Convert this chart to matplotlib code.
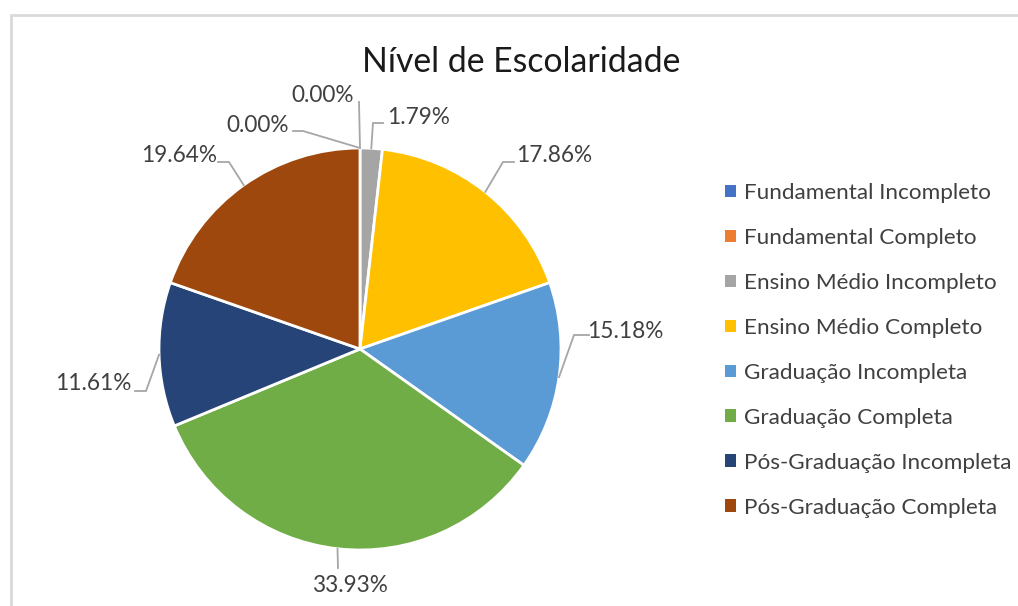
import matplotlib
matplotlib.use("Agg")
import matplotlib.pyplot as plt
import numpy as np

# ---- data ----
categories = ["Fundamental Incompleto", "Fundamental Completo", "Ensino Médio Incompleto",
              "Ensino Médio Completo", "Graduação Incompleta", "Graduação Completa",
              "Pós-Graduação Incompleta", "Pós-Graduação Completa"]
counts = [0, 0, 2, 20, 17, 38, 13, 22]
title = "Nível de Escolaridade"

# ---- style ----
colors = ["#4472C4", "#ED7D31", "#A5A5A5", "#FFC000", "#5B9BD5", "#70AD47", "#264478", "#9E480E"]
# label text centre, elbow point and line end (pixel coordinates, y from top)
label_pos = [(323, 95), (258, 125), (419, 117), (554, 156), (625, 332), (350, 585), (93, 383), (179, 155)]
elbow_pos = [(359, 102), (303, 131), (373, 123), (503, 162), (574, 335), (338, 568), (146, 391), (229, 162)]
end_pos = [(359, 102), (293, 131), (383, 123), (514, 162), (589, 335), (338, 568), (135, 391), (218, 162)]

plt.rcParams['font.family'] = ['Lato', 'DejaVu Sans']
W, H = 1018, 606
fig = plt.figure(figsize=(W / 100, H / 100), dpi=100)
ax = fig.add_axes([0, 0, 1, 1])
cx, cy, r = 360, H - 349, 201

wedges, _ = ax.pie(counts, colors=colors, startangle=90, counterclock=False,
                   center=(cx, cy), radius=r, frame=True,
                   wedgeprops=dict(edgecolor="white", linewidth=2))
ax.set_xlim(0, W)
ax.set_ylim(0, H)
ax.set_aspect("equal")
ax.axis("off")

total = sum(counts)
txtcol = "#404040"
linecol = "#A6A6A6"
for w, c, lp, ep, en in zip(wedges, counts, label_pos, elbow_pos, end_pos):
    th = np.deg2rad((w.theta1 + w.theta2) / 2)
    ex, ey = cx + r * np.cos(th), cy + r * np.sin(th)
    ax.plot([ex, ep[0], en[0]], [ey, H - ep[1], H - en[1]], color=linecol, lw=1.3,
            solid_joinstyle="miter", clip_on=False, zorder=1)
    ax.text(lp[0], H - lp[1], f"{c / total * 100:.2f}%", ha="center", va="center",
            fontsize=16.3, color=txtcol)

ax.text(521, H - 62, title, ha="center", va="center", fontsize=24.3, color="#1a1a1a")

# chart frame (left and top edges visible)
ax.plot([11, 11, W], [0, H - 15, H - 15], color="#D9D9D9", lw=2, clip_on=False,
        solid_joinstyle="miter")

leg = fig.legend(wedges, categories, loc="upper left",
                 bbox_to_anchor=(725 / W, 1 - 183 / H), frameon=False,
                 fontsize=16.2, labelspacing=1.11, handlelength=0.5, handleheight=0.5,
                 handletextpad=0.35, borderpad=0, borderaxespad=0)
for t in leg.get_texts():
    t.set_color(txtcol)
for h in leg.legend_handles:
    h.set_edgecolor("none")

fig.savefig("out.png", dpi=100, facecolor="white")
